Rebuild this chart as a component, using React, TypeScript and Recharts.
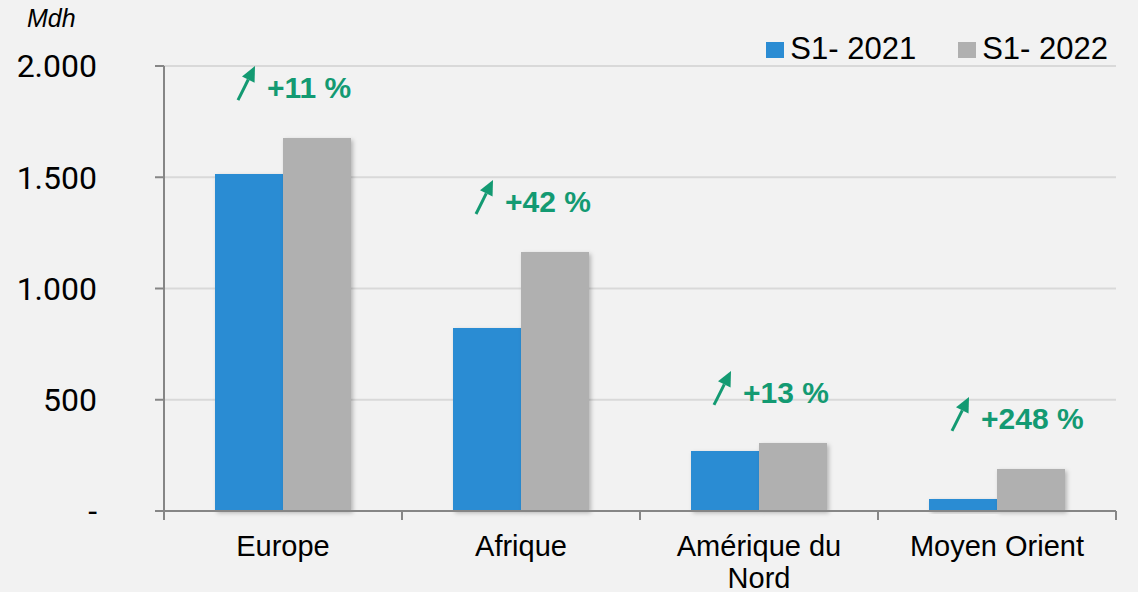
import React from 'react';
import { BarChart, Bar, XAxis, YAxis, CartesianGrid, LabelList } from 'recharts';

const categories = ['Europe', 'Afrique', 'Amérique du Nord', 'Moyen Orient'];
const s2021 = [1515, 822, 270, 54];
const s2022 = [1676, 1164, 306, 189];
const growthLabels = ['+11 %', '+42 %', '+13 %', '+248 %'];
const seriesNames = ['S1- 2021', 'S1- 2022'];
const yTicks = [0, 500, 1000, 1500, 2000];

const BLUE = '#2b8cd3';
const GRAY = '#b0b0b0';
const GREEN = '#139a72';
const AXIS = '#868686';
const FONT = '"Liberation Sans", Arial, sans-serif';

const data = categories.map((name, i) => ({ name, a: s2021[i], b: s2022[i], growth: growthLabels[i] }));

const W = 1138;
const H = 592;
const margin = { top: 66, right: 22, bottom: 0, left: 0 };
const band = (W - 164 - margin.right) / categories.length;

const formatY = (v: number) => (v === 0 ? '-' : v.toString().replace(/\B(?=(\d{3})+(?!\d))/g, '.'));

const CategoryTick = (props: any) => {
    const { x, y, payload, index } = props;
    const text: string = payload.value;
    let lines = [text];
    if (text.length > 14) {
        const cut = text.lastIndexOf(' ');
        lines = [text.slice(0, cut), text.slice(cut + 1)];
    }
    const last = index === categories.length - 1;
    return (
        <g>
            <line x1={x - band / 2} x2={x - band / 2} y1={y} y2={y + 9} stroke={AXIS} strokeWidth={2} />
            {last && <line x1={x + band / 2} x2={x + band / 2} y1={y} y2={y + 9} stroke={AXIS} strokeWidth={2} />}
            <text x={x} y={y + 45} textAnchor="middle" fontFamily={FONT} fontSize={29} fill="#000">
                {lines.map((l, i) => (
                    <tspan key={i} x={x} dy={i === 0 ? 0 : 32}>{l}</tspan>
                ))}
            </text>
        </g>
    );
};

const GrowthLabel = (props: any) => {
    const { x, y, value } = props;
    const tx = x - 16;
    const ty = y - 50;
    // arrow from tail to tip
    const tailX = tx - 29, tailY = ty + 12;
    const tipX = tx - 12, tipY = ty - 22;
    const dx = tipX - tailX, dy = tipY - tailY;
    const len = Math.sqrt(dx * dx + dy * dy);
    const ux = dx / len, uy = dy / len;
    const hl = 15, hw = 7;
    const bx = tipX - ux * hl, by = tipY - uy * hl;
    const head = `${tipX},${tipY} ${bx - uy * hw},${by + ux * hw} ${bx + uy * hw},${by - ux * hw}`;
    return (
        <g>
            <line x1={tailX} y1={tailY} x2={bx} y2={by} stroke={GREEN} strokeWidth={3} />
            <polygon points={head} fill={GREEN} />
            <text x={tx} y={ty} dy={10} fontFamily={FONT} fontWeight="bold" fontSize={30} fill={GREEN}>
                {value}
            </text>
        </g>
    );
};

const App: React.FC = () => {
    const colors = [BLUE, GRAY];
    return (
        <div style={{ position: 'absolute', left: 0, top: 0, width: W, height: H, background: '#f2f2f2' }}>
            <svg width={W} height={H} style={{ position: 'absolute', left: 0, top: 0 }}>
                <defs>
                    <filter id="shadow" x="-10%" y="-10%" width="130%" height="130%">
                        <feDropShadow dx="2" dy="2" stdDeviation="2" floodColor="#000" floodOpacity="0.25" />
                    </filter>
                </defs>
            </svg>
            <div style={{ position: 'absolute', left: 27, top: 4, fontFamily: FONT, fontStyle: 'italic', fontSize: 25 }}>Mdh</div>
            <div style={{ position: 'absolute', right: 30, top: 31, display: 'flex', fontFamily: FONT, fontSize: 31, lineHeight: '36px' }}>
                {seriesNames.map((n, i) => (
                    <div key={n} style={{ display: 'flex', alignItems: 'center', marginLeft: i ? 42 : 0 }}>
                        <div style={{ width: 18, height: 16, background: colors[i], marginRight: 6, marginTop: 2 }} />
                        <span>{n}</span>
                    </div>
                ))}
            </div>
            <BarChart width={W} height={H} data={data} margin={margin} barGap={0} barSize={68} style={{ position: 'absolute', left: 0, top: 0 }}>
                <CartesianGrid vertical={false} stroke="#d9d9d9" strokeWidth={2} />
                <XAxis
                    dataKey="name"
                    interval={0}
                    height={81}
                    stroke={AXIS}
                    strokeWidth={2}
                    tickLine={false}
                    tickSize={0}
                    tickMargin={0}
                    tick={<CategoryTick />}
                />
                <YAxis
                    width={164}
                    domain={[0, 2000]}
                    ticks={yTicks}
                    tickFormatter={formatY}
                    stroke={AXIS}
                    strokeWidth={2}
                    tickSize={9}
                    tickMargin={58}
                    tick={{ fill: '#000', fontSize: 32, fontFamily: 'Roboto, sans-serif' }}
                />
                <Bar dataKey="a" fill={BLUE} isAnimationActive={false} style={{ filter: 'url(#shadow)' }} />
                <Bar dataKey="b" fill={GRAY} isAnimationActive={false} style={{ filter: 'url(#shadow)' }}>
                    <LabelList dataKey="growth" content={<GrowthLabel />} />
                </Bar>
            </BarChart>
        </div>
    );
};

export default App;
